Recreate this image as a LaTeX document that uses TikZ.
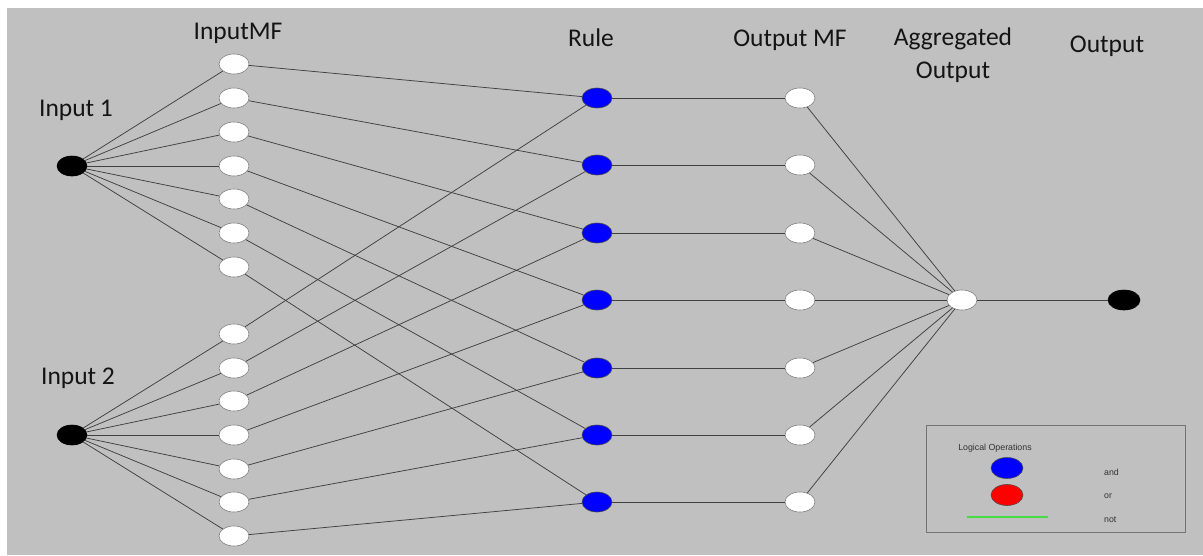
\documentclass[tikz,border=0pt]{standalone}
\usepackage{fontspec}
\setmainfont{Carlito}
\newfontfamily\legfont{Liberation Sans}
\usetikzlibrary{shapes.geometric}
\definecolor{bg}{HTML}{C0C0C0}
\definecolor{linec}{HTML}{404040}
\definecolor{legline}{HTML}{44DD44}
\begin{document}
\begin{tikzpicture}[x=1pt,y=-1pt,
  nd/.style={ellipse, minimum width=30pt, minimum height=20pt, inner sep=0pt, line width=0.6pt},
  wn/.style={nd, fill=white, draw=black!50},
  bn/.style={nd, fill=black, draw=black},
  rn/.style={nd, fill=blue, draw=black!70},
  lbl/.style={font=\fontsize{25.5}{33}\selectfont, text=black!92, inner sep=0pt},
  leg/.style={font=\legfont\fontsize{8.8}{10}\selectfont, text=black!80, inner sep=0pt},
  conn/.style={draw=linec, line width=0.75pt},
]
\useasboundingbox (0,0) rectangle (1203,555);
\fill[bg] (7,8) rectangle (1203,555);

\node[bn] (in1) at (72,166) {};
\node[bn] (in2) at (72,435) {};
\foreach \i/\y in {1/64,2/98,3/132,4/166,5/199,6/233,7/267} \node[wn] (a\i) at (234,\y) {};
\foreach \i/\y in {1/334,2/368,3/401,4/435,5/469,6/502,7/536} \node[wn] (b\i) at (234,\y) {};
\foreach \i/\y in {1/98,2/165,3/233,4/300,5/368,6/435,7/502} {
  \node[rn] (r\i) at (597,\y) {};
  \node[wn] (o\i) at (800,\y) {};
}
\node[wn] (agg) at (962,300) {};
\node[bn, minimum width=32pt] (out) at (1124,300) {};

\foreach \i in {1,...,7} {
  \draw[conn] (in1) -- (a\i);
  \draw[conn] (in2) -- (b\i);
  \draw[conn] (a\i) -- (r\i);
  \draw[conn] (b\i) -- (r\i);
  \draw[conn] (r\i) -- (o\i);
  \draw[conn] (o\i) -- (agg);
}
\draw[conn] (agg) -- (out);

\node[lbl] (tInMF) at (238,33) {InputMF};
\node[lbl] (tIn1) at (76,110) {Input 1};
\node[lbl] (tIn2) at (78,378) {Input 2};
\node[lbl] (tRule) at (591,38) {Rule};
\node[lbl] (tOMF) at (790,40) {Output MF};
\node[lbl, align=center] (tAgg) at (953,55) {Aggregated\\Output};
\node[lbl] (tOut) at (1107,46) {Output};

\node[draw=black!55, line width=0.8pt, minimum width=259pt, minimum height=107pt, inner sep=0pt] (legbox) at (1055.5,478.5) {};
\node[leg] (tLog) at (995,448) {Logical Operations};
\node[nd, fill=blue, draw=black!70, minimum width=32pt, minimum height=21pt] (land) at (1007,468) {};
\node[nd, fill=red, draw=black!70, minimum width=32pt, minimum height=21pt] (lor) at (1007,495) {};
\coordinate (gl1) at (967,517);
\coordinate (gl2) at (1048,517);
\draw[legline, line width=1.3pt] (gl1) -- (gl2);
\node[leg, anchor=west] (tand) at (1104,472) {and};
\node[leg, anchor=west] (tor) at (1104,496) {or};
\node[leg, anchor=west] (tnot) at (1104,520) {not};
\end{tikzpicture}
\end{document}
